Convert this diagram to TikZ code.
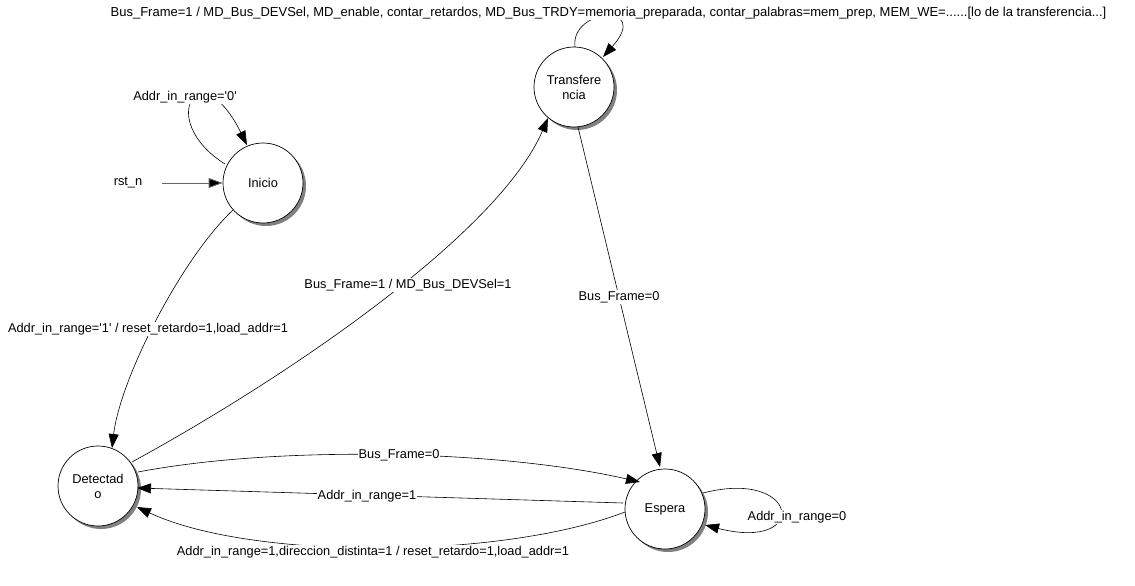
\documentclass[tikz,border=0pt]{standalone}
\usepackage{fontspec}
\setmainfont{Liberation Sans}[Ligatures=TeXOff]
\usetikzlibrary{arrows.meta,shadows}
\begin{document}
\begin{tikzpicture}[x=1pt,y=-1pt,
  font=\fontsize{12.8}{15}\selectfont,
  state/.style={circle,draw,fill=white,line width=0.7pt,minimum size=80pt,inner sep=0pt,align=center,
    drop shadow={shadow xshift=3pt,shadow yshift=-3pt,fill=black!50,opacity=1}},
  edge/.style={draw,line width=0.6pt,-{Triangle[length=14pt,width=10pt]}},
  lbl/.style={fill=white,inner sep=1pt}]
\useasboundingbox (0,0) rectangle (1135,586);
\node[state] (ini) at (263,183) {Inicio};
\node[state] (tra) at (574,87) {Transfere\\ncia};
\node[state] (det) at (98,486) {Detectad\\o};
\node[state] (esp) at (665,509) {Espera};
\node (rst) at (128,183) {rst\_n};
\coordinate (rstA) at (162,183);
% rst
\draw[line width=0.9pt,draw=black!60,-{Triangle[length=14pt,width=10pt,fill=black]}] (rstA) -- (ini.west);
% Inicio loop
\draw[edge] (225,164) .. controls (155,120) and (200,50) .. (247,145);
\node[lbl] (l1) at (185,97) {Addr\_in\_range='0'};
% Inicio -> Detectado
\draw[edge] (233,210) .. controls (180,260) and (120,380) .. (112,448);
\node[lbl] (l2) at (148,329) {Addr\_in\_range='1' / reset\_retardo=1,load\_addr=1};
% Detectado -> Transferencia
\draw[edge] (132,462) .. controls (300,370) and (500,230) .. (548,118);
\node[lbl] (l3) at (408,285) {Bus\_Frame=1 / MD\_Bus\_DEVSel=1};
% Transferencia loop
\draw[edge] (575,47) .. controls (570,8) and (652,2) .. (603,57);
\node[lbl,font=\fontsize{13}{15}\selectfont] (l4) at (608.5,13) {Bus\_Frame=1 / MD\_Bus\_DEVSel, MD\_enable, contar\_retardos, MD\_Bus\_TRDY=memoria\_preparada, contar\_palabras=mem\_prep, MEM\_WE=......[lo de la transferencia...]};
% Transferencia -> Espera
\draw[edge] (578,127) -- (660,467);
\node[lbl] (l5) at (619,297) {Bus\_Frame=0};
% Detectado -> Espera
\draw[edge] (138,472) .. controls (280,445) and (500,450) .. (640,482);
\node[lbl] (l6) at (399,455) {Bus\_Frame=0};
% Espera -> Detectado
\draw[edge] (623,503) -- (137,488);
\node[lbl] (l7) at (367,496) {Addr\_in\_range=1};
% Espera -> Detectado lower
\draw[edge] (625,512) .. controls (500,560) and (250,560) .. (137,507);
\node[lbl] (l8) at (373,552) {Addr\_in\_range=1,direccion\_distinta=1 / reset\_retardo=1,load\_addr=1};
% Espera loop
\draw[edge] (703,493) .. controls (800,468) and (810,552) .. (705,525);
\node[lbl] (l9) at (797,517) {Addr\_in\_range=0};
\end{tikzpicture}
\end{document}
